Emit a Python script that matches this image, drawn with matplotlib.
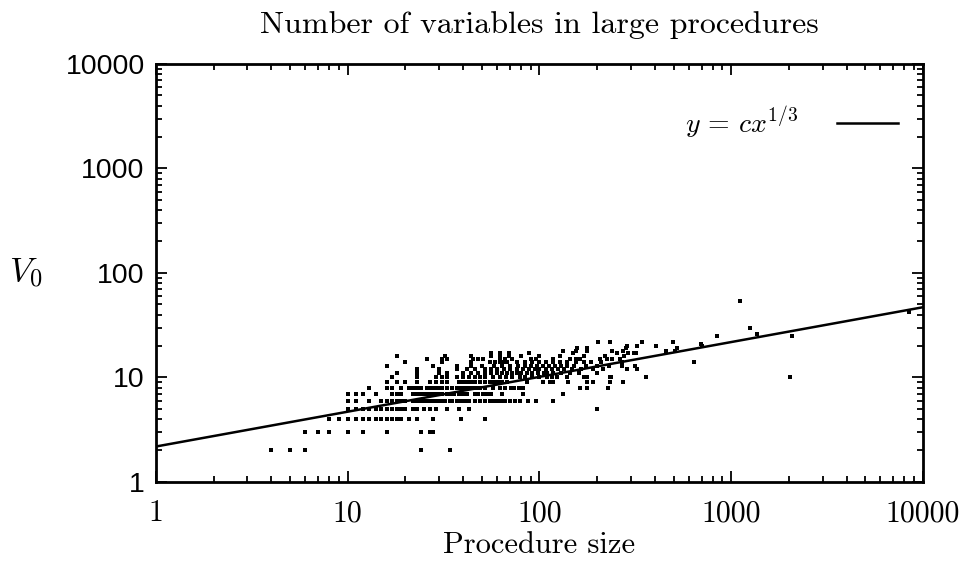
import numpy as np
import matplotlib
matplotlib.use("Agg")
import matplotlib.pyplot as plt

# procedure sizes grouped by number of variables V0
sizes_by_v0 = {
    2: [4, 5, 6, 24, 34],
    3: [6, 7, 8, 10, 12, 16, 24, 27, 28],
    4: [8, 9, 10, 11, 12, 13, 14, 15, 16, 17, 18, 19, 21, 23, 28, 39, 52],
    5: [10, 11, 12, 13, 14, 15, 16, 17, 18, 19, 20, 22, 23, 25, 27, 29, 33,
        38, 43, 200],
    6: [10, 11, 13, 15, 16, 17, 18, 19, 20, 22, 23, 24, 25, 26, 27, 28, 29,
        30, 31, 32, 34, 35, 37, 39, 41, 43, 46, 49, 52, 55, 58, 60, 63, 66,
        70, 75, 79, 87, 96, 118],
    7: [10, 11, 12, 14, 17, 18, 19, 22, 23, 24, 25, 26, 27, 28, 29, 30, 31,
        33, 34, 36, 38, 40, 42, 46, 48, 51, 53, 56, 64, 82, 132],
    8: [13, 16, 17, 19, 21, 22, 23, 24, 26, 27, 28, 29, 30, 31, 33, 35, 37,
        38, 40, 42, 44, 45, 47, 49, 52, 57, 62, 66, 71, 74, 78, 82, 163, 176,
        228],
    9: [16, 18, 20, 23, 27, 29, 31, 33, 38, 40, 42, 44, 46, 49, 52, 55, 58,
        61, 64, 68, 86, 104, 113, 118, 141, 178, 190, 232, 272],
    10: [17, 23, 29, 31, 33, 37, 40, 43, 46, 49, 52, 57, 62, 67, 72, 79, 84,
         92, 100, 110, 116, 123, 139, 171, 176, 232, 237, 359, 2030],
    11: [18, 23, 30, 33, 40, 44, 48, 52, 56, 60, 64, 68, 72, 76, 80, 86, 92,
         98, 105, 110, 118, 130, 145, 160, 200],
    12: [23, 30, 37, 42, 46, 52, 56, 60, 65, 70, 76, 82, 88, 95, 100, 108,
         116, 125, 135, 148, 165, 190, 215, 285, 321],
    13: [16, 28, 37, 44, 50, 58, 64, 70, 77, 84, 90, 97, 104, 112, 120, 130,
         140, 152, 175, 200, 230, 268, 314],
    14: [20, 31, 44, 55, 59, 62, 65, 68, 76, 84, 92, 100, 108, 118, 128, 140,
         155, 170, 185, 210, 268, 640],
    15: [26, 31, 33, 45, 48, 51, 62, 66, 72, 90, 96, 118, 144, 155, 162, 206,
         225, 240, 262],
    16: [18, 32, 44, 56, 62, 69, 80, 100, 128, 170, 220, 276],
    17: [56, 62, 69, 88, 150, 253, 291, 310, 320],
    18: [133, 156, 176, 240, 274, 457, 510],
    19: [157, 176, 282, 520],
    20: [285, 321, 404, 700],
    21: [693],
    22: [203, 232, 341, 495],
    25: [840, 2070],
    26: [1370],
    30: [1250],
    42: [8450],
    54: [1110],
}

c_fit = 2.18
fit_x = [1, 10, 100, 1000, 10000]

tick_vals = [1, 10, 100, 1000, 10000]
tick_labels = ["1", "10", "100", "1000", "10000"]

sizes = [s for v in sizes_by_v0 for s in sizes_by_v0[v]]
v0 = [v for v in sizes_by_v0 for s in sizes_by_v0[v]]

plt.rcParams['mathtext.fontset'] = 'cm'

fig = plt.figure(figsize=(9.62, 5.61), dpi=100)
ax = fig.add_axes([0.162, 0.141, 0.7975, 0.745])

ax.plot(sizes, v0, 's', color='black', markersize=3.3, markeredgewidth=0,
        linestyle='none')
fx = np.array(fit_x, dtype=float)
ax.plot(fx, c_fit * fx ** (1.0 / 3.0), color='black', lw=1.8,
        label=r'$y\,=\,cx^{1/3}$')

ax.set_xscale('log')
ax.set_yscale('log')
ax.set_xlim(1, 10000)
ax.set_ylim(1, 10000)

ax.set_xticks(tick_vals)
ax.set_xticklabels(tick_labels, fontfamily='cmr10', fontsize=21.5)
ax.set_yticks(tick_vals)
ax.set_yticklabels(tick_labels, fontfamily='Liberation Sans', fontsize=20.5)
ax.tick_params(which='both', direction='in', top=True, right=True, width=1.3)
ax.tick_params(which='major', length=8)
ax.tick_params(axis='x', which='major', pad=13)
ax.tick_params(axis='y', which='major', pad=8)
ax.tick_params(which='minor', length=4.5)
for sp in ax.spines.values():
    sp.set_linewidth(2.0)

ax.set_title('Number of variables in large procedures', fontfamily='cmr10',
             fontsize=23, pad=22)
ax.set_xlabel('Procedure size', fontfamily='cmr10', fontsize=22, labelpad=3)
ax.set_ylabel(r'$V_0$', fontsize=25, rotation=0, labelpad=0)
ax.yaxis.set_label_coords(-0.17, 0.5)
ax.yaxis.label.set_verticalalignment('center')

ax.legend(loc='upper right', bbox_to_anchor=(1.0, 0.962), frameon=False,
          markerfirst=False, fontsize=20, handlelength=2.2,
          handletextpad=1.4, borderaxespad=0.5)

fig.savefig('out.png', dpi=100)
